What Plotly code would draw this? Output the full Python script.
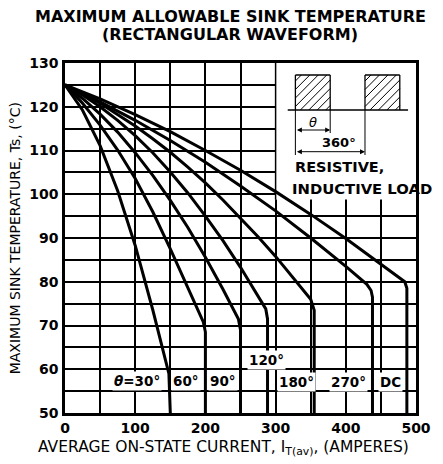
import plotly.graph_objects as go

# Allowable sink temperature (deg C) versus average on-state current (A),
# read off the chart for each conduction angle.
i_30 = [0, 25, 50, 75, 100, 125, 148, 150]
t_30 = [125, 119.2, 111.1, 100.8, 88.3, 73.6, 59, 50]

i_60 = [0, 25, 50, 75, 100, 125, 150, 175, 197, 200, 200]
t_60 = [125, 120.8, 115.8, 110.1, 103.6, 96, 87.5, 78.8, 70.8, 68.5, 50]

i_90 = [0, 25, 50, 75, 100, 125, 150, 175, 200, 225, 247, 250, 250]
t_90 = [125, 121.9, 118.3, 114.2, 109.5, 104.3, 98.6, 92.4, 85.6, 78.3, 71.5, 69, 50]

i_120 = [0, 25, 50, 75, 100, 125, 150, 175, 200, 225, 250, 275, 286, 288.5, 288.5]
t_120 = [125, 122.7, 120, 116.9, 113.4, 109.5, 105.1, 100.3, 95, 89.4, 83.3, 76.8, 73.8, 71.5, 50]

i_180 = [0, 25, 50, 75, 100, 125, 150, 175, 200, 225, 250, 275, 300, 325, 350, 355, 355]
t_180 = [125, 123, 120.8, 118.3, 115.6, 112.7, 109.6, 106.2, 102.6, 98.7, 94.6, 90.3, 85.8, 81, 76, 73.5, 50]

i_270 = [0, 50, 100, 150, 200, 250, 300, 350, 400, 430, 436, 438, 438]
t_270 = [125, 121.1, 116.9, 112.3, 107.3, 101.9, 96.2, 90, 83.5, 79.4, 78, 76.5, 50]

i_dc = [0, 50, 100, 150, 200, 250, 300, 350, 400, 450, 484, 487, 487]
t_dc = [125, 121.8, 118.2, 114.3, 110, 105.5, 100.6, 95.4, 89.9, 84, 80, 78.5, 50]

series = [(i_30, t_30), (i_60, t_60), (i_90, t_90), (i_120, t_120),
          (i_180, t_180), (i_270, t_270), (i_dc, t_dc)]
curve_labels = ["<i>θ</i>=30°", "60°", "90°", "120°", "180°", "270°", "DC"]

x_ticks = [0, 100, 200, 300, 400, 500]
y_ticks = [50, 60, 70, 80, 90, 100, 110, 120, 130]

# page layout (the browser body adds an 8px margin around the figure)
OFF = 8
PL, PR, PT, PB = 65, 418, 63, 413          # plot box on the page
W, H = 443 - OFF, 464 - OFF
ML, MT = PL - OFF, PT - OFF
MR, MB = W - (PR - OFF), H - (PB - OFF)
XR, YR = [0, 500], [50, 130]
PW, PH = PR - PL, PB - PT


def dx(px):
    # page pixel -> current axis value
    return XR[0] + (px - PL) / PW * (XR[1] - XR[0])


def dy(py):
    # page pixel -> temperature axis value
    return YR[1] - (py - PT) / PH * (YR[1] - YR[0])


def paper(px, py):
    return (px - PL) / PW, (PB - py) / PH


FONT = "DejaVu Sans"
fig = go.Figure()
for i_vals, t_vals in series:
    fig.add_trace(go.Scatter(x=i_vals, y=t_vals, mode="lines",
                             line=dict(color="black", width=3),
                             showlegend=False, hoverinfo="skip"))

shapes = []
# inset box
shapes.append(dict(type="rect", xref="x", yref="y", x0=300, x1=500, y0=98.8, y1=130,
                   fillcolor="white", line=dict(width=0), layer="between"))
shapes.append(dict(type="line", xref="x", yref="y", x0=300, x1=300, y0=98.8, y1=130,
                   line=dict(color="black", width=1.5), layer="between"))


def seg(x0, y0, x1, y1, w=1.3):
    shapes.append(dict(type="line", xref="x", yref="y", x0=dx(x0), y0=dy(y0),
                       x1=dx(x1), y1=dy(y1), line=dict(color="black", width=w)))


# hatched pulses
for left in (296.7, 366.7):
    x0, x1, y0, y1 = left, left + 35, 75, 110
    seg(x0, y0, x1, y0); seg(x0, y0, x0, y1); seg(x1, y0, x1, y1)
    c = x0 + y0 + 6
    while c < x1 + y1:
        a = max(x0, c - y1)
        b = min(x1, c - y0)
        if b > a:
            seg(a, c - a, b, c - b, 1)
        c += 8.5
# baseline and dimension lines
seg(289, 110, 410, 110)
seg(296.7, 110, 296.7, 155, 1)
seg(331.7, 110, 331.7, 133, 1)
seg(366.7, 110, 366.7, 155, 1)

annotations = []
for x0, x1, y in ((296.7, 331.7, 130), (296.7, 366.7, 151.7)):
    annotations.append(dict(x=dx(x1), y=dy(y), ax=dx(x0), ay=dy(y), axref="x", ayref="y",
                            xref="x", yref="y", text="", showarrow=True,
                            arrowside="end+start", arrowhead=2, arrowsize=1,
                            arrowwidth=1, arrowcolor="black"))
annotations.append(dict(x=dx(314), y=dy(122), xref="x", yref="y", showarrow=False,
                        text="<i>θ</i>", font=dict(family=FONT, size=13, color="black")))
annotations.append(dict(x=dx(341), y=dy(142.5), xref="x", yref="y", showarrow=False,
                        text="360°", font=dict(family=FONT, size=13, color="black", weight="bold")))
annotations.append(dict(x=dx(294), y=dy(167), xref="x", yref="y", showarrow=False,
                        xanchor="left", text="RESISTIVE,",
                        font=dict(family=FONT, size=14.5, color="black", weight="bold")))
annotations.append(dict(x=dx(291), y=dy(188), xref="x", yref="y", showarrow=False,
                        xanchor="left", text="INDUCTIVE LOAD",
                        font=dict(family=FONT, size=14.8, color="black", weight="bold")))

# curve labels
label_pos = [(102.5, 57.3), (172, 57.3), (225, 57.3), (287, 62.2),
             (330, 57.1), (404, 57.1), (463, 57.1)]
for text, (lx, ly) in zip(curve_labels, label_pos):
    annotations.append(dict(x=lx, y=ly, xref="x", yref="y", showarrow=False, text=text,
                            bgcolor="white", borderpad=1,
                            font=dict(family=FONT, size=13.5, color="black", weight="bold")))


def page_text(text, px, py, size, bold=False, angle=0):
    xp, yp = paper(px, py)
    font = dict(family=FONT, size=size, color="black")
    if bold:
        font["weight"] = "bold"
    annotations.append(dict(x=xp, y=yp, xref="paper", yref="paper", xanchor="center",
                            yanchor="middle", showarrow=False, text=text, textangle=angle,
                            font=font))


page_text("MAXIMUM ALLOWABLE SINK TEMPERATURE", 231, 17, 16, bold=True)
page_text("(RECTANGULAR WAVEFORM)", 231, 35, 16, bold=True)
page_text("MAXIMUM SINK TEMPERATURE, Ts, (°C)", 15, 238, 14, angle=-90)
page_text("AVERAGE ON-STATE CURRENT, I<sub>T(av)</sub>, (AMPERES)", 224, 448, 15.5)

axis_common = dict(showgrid=True, gridcolor="black", gridwidth=1.5, zeroline=False,
                   showline=True, linecolor="black", linewidth=2.5, mirror=True, ticks="",
                   tickfont=dict(family=FONT, size=14, color="black", weight="bold"))
fig.update_xaxes(range=XR, tickvals=x_ticks, ticklabelstandoff=0,
                 minor=dict(dtick=50, tick0=0, showgrid=True, gridcolor="black", gridwidth=1.5),
                 **axis_common)
fig.update_yaxes(range=YR, tickvals=y_ticks, ticklabelstandoff=1,
                 minor=dict(dtick=5, tick0=0, showgrid=True, gridcolor="black", gridwidth=1.5),
                 **axis_common)
fig.update_layout(width=W, height=H, margin=dict(l=ML, r=MR, t=MT, b=MB),
                  paper_bgcolor="white", plot_bgcolor="white",
                  shapes=shapes, annotations=annotations)
fig.write_html("out.html")
